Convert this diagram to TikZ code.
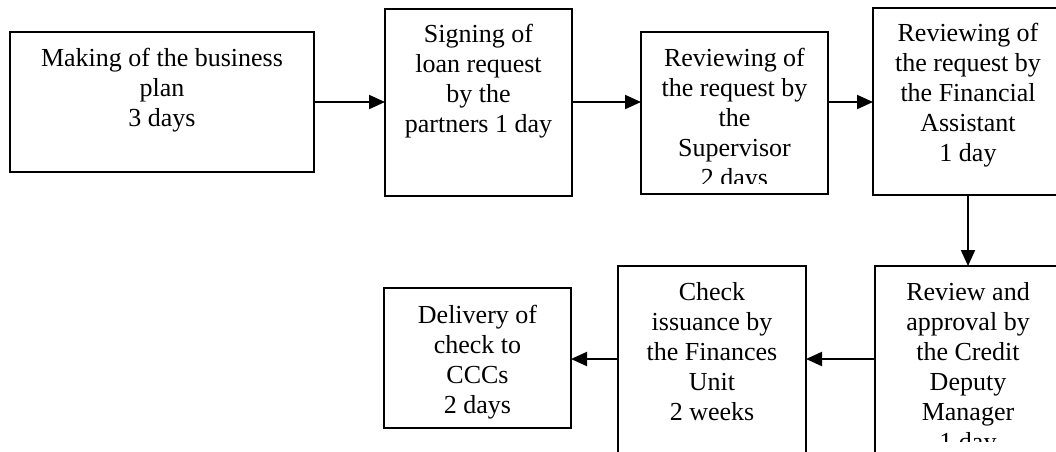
\documentclass[tikz,border=0pt]{standalone}
\usepackage{fontspec}
\setmainfont{Liberation Serif}
\usetikzlibrary{arrows.meta}
\tikzset{
  box/.style={draw, line width=2pt, inner sep=0pt, outer sep=0pt},
  txt/.style={inner sep=0pt, outer sep=0pt, align=center, anchor=north,
    font=\fontsize{26}{30}\selectfont},
  flow/.style={line width=2pt, -{Triangle[length=16pt,width=14pt]}},
}
\newcommand{\fs}{\rule{0pt}{24pt}}
\begin{document}
\begin{tikzpicture}[x=1pt,y=-1pt]
\clip (0,0) rectangle (1056,451);
\useasboundingbox (0,0) rectangle (1056,451);
% boxes
\node[box, minimum width=304, minimum height=140] (b1) at (162,102) {};
\node[box, minimum width=187, minimum height=187] (b2) at (478.5,102.5) {};
\node[box, minimum width=187, minimum height=162] (b3) at (734.5,113) {};
\node[box, minimum width=190, minimum height=187] (b4) at (968,101.5) {};
\node[box, minimum width=186, minimum height=187] (b5) at (968,359.5) {};
\node[box, minimum width=188, minimum height=187] (b6) at (712,359.5) {};
\node[box, minimum width=187, minimum height=140] (b7) at (477.5,358) {};
\coordinate (r1) at (0,102);
\coordinate (r2) at (0,359);
% texts
\node[txt] (t1) at (162,42) {\fs Making of the business\\plan\\3 days};
\node[txt] (t2) at (478.5,18.7) {\fs Signing of\\loan request\\by the\\partners 1 day};
\begin{scope}
\clip (641,32) rectangle (828,183);
\node[txt] (t3) at (734.5,42.7) {\fs Reviewing of\\the request by\\the\\Supervisor\\2 days};
\end{scope}
\node[txt] (t4) at (968,17.7) {\fs Reviewing of\\the request by\\the Financial\\Assistant\\1 day};
\begin{scope}
\clip (875,266) rectangle (1061,441);
\node[txt] (t5) at (968,276) {\fs Review and\\approval by\\the Credit\\Deputy\\Manager\\1 day};
\end{scope}
\node[txt] (t6) at (712,276) {\fs Check\\issuance by\\the Finances\\Unit\\2 weeks};
\node[txt] (t7) at (477.5,299.3) {\fs Delivery of\\check to\\CCCs\\2 days};
% connectors
\draw[flow] (b1.east |- r1) -- (b2.west |- r1);
\draw[flow] (b2.east |- r1) -- (b3.west |- r1);
\draw[flow] (b3.east |- r1) -- (b4.west |- r1);
\draw[flow] (b4.south) -- (b5.north);
\draw[flow] (b5.west |- r2) -- (b6.east |- r2);
\draw[flow] (b6.west |- r2) -- (b7.east |- r2);
\end{tikzpicture}
\end{document}
